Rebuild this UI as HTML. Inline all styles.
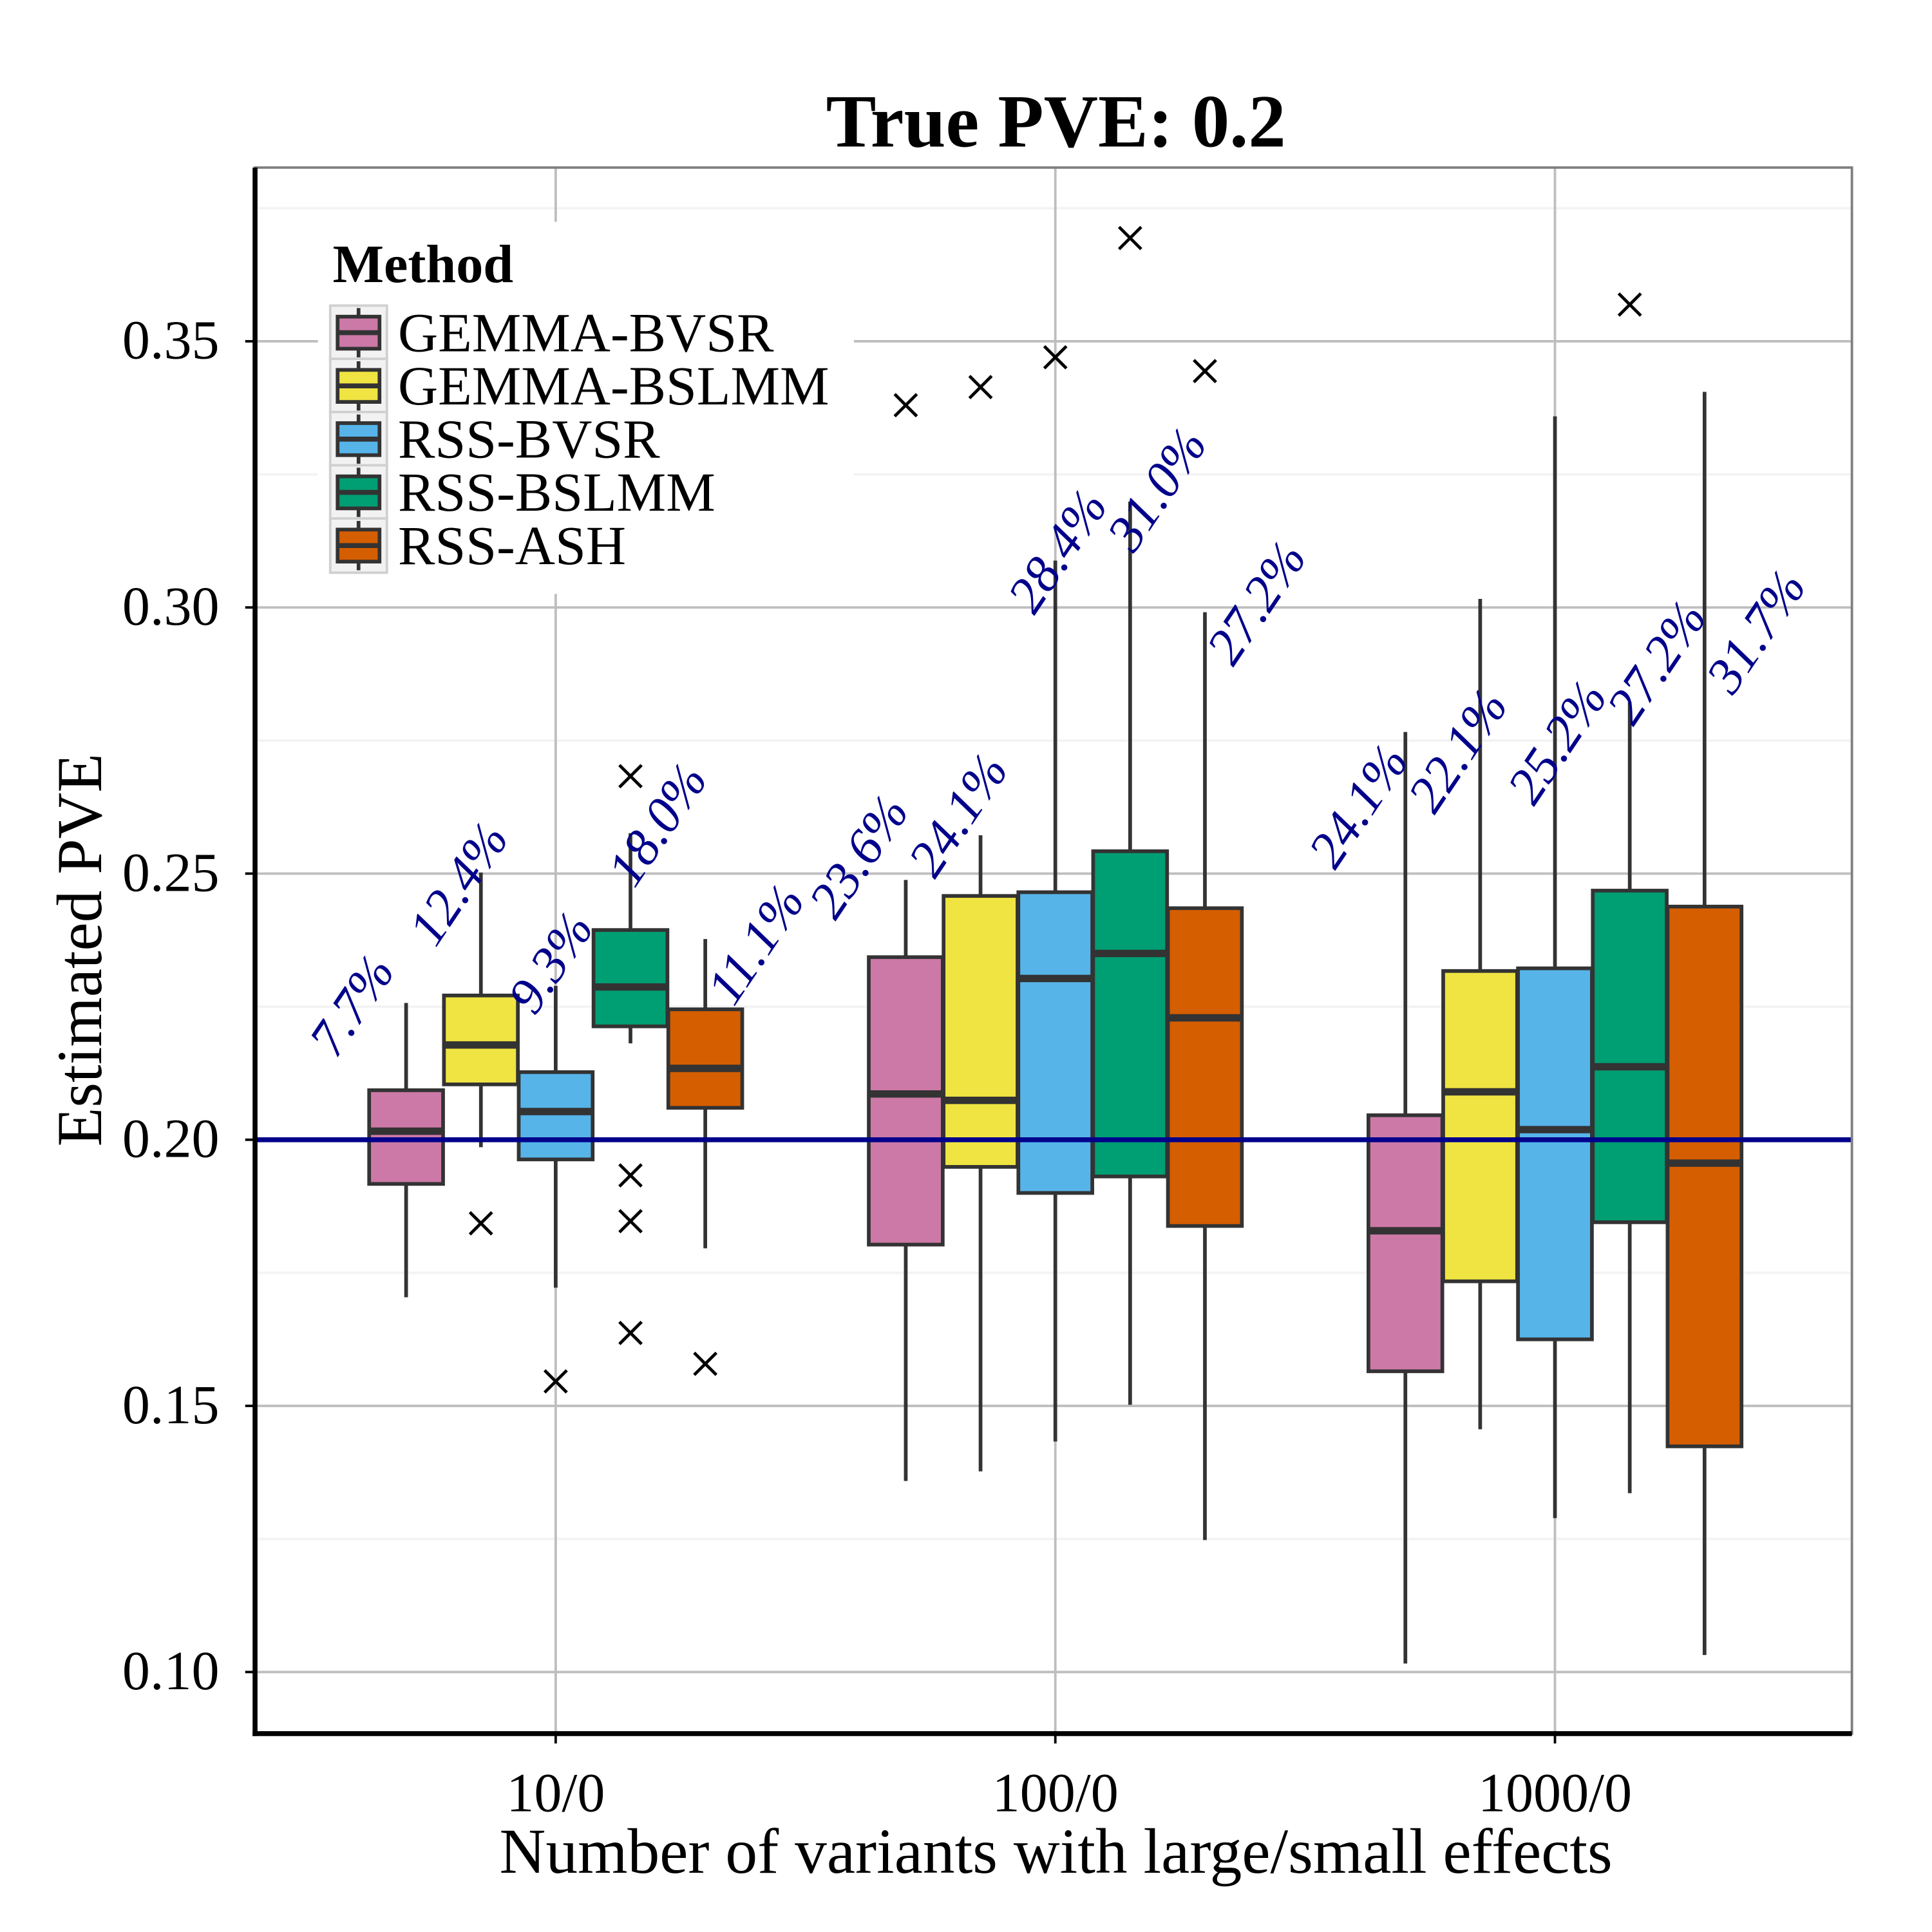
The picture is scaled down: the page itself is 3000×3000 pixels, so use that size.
<!DOCTYPE html>
<html><head><meta charset="utf-8"><style>html,body{margin:0;padding:0;background:#fff}svg{display:block}</style></head>
<body>
<svg id="chart" width="3000" height="3000" viewBox="0 0 1568 1568" xmlns="http://www.w3.org/2000/svg" font-family="'Liberation Serif', serif">
<rect x="0" y="0" width="1568" height="1568" fill="#fff"/>
<g id="grid"></g>
<g id="marks"></g>
<g id="labels"></g>
<g id="axes"></g>
<text x="857" y="119" text-anchor="middle" font-size="61" font-weight="bold">True PVE: 0.2</text>
<text x="857" y="1520" text-anchor="middle" font-size="52">Number of variants with large/small effects</text>
<text transform="translate(82,771) rotate(-90)" text-anchor="middle" font-size="52">Estimated PVE</text>
<g id="legend"></g>
</svg>
<script>
const groups = ["10/0","100/0","1000/0"];
const methods = ["GEMMA-BVSR","GEMMA-BSLMM","RSS-BVSR","RSS-BSLMM","RSS-ASH"];
const colors = ["#CC79A7","#F0E442","#56B4E9","#009E73","#D55E00"];
const yTicks = [0.10,0.15,0.20,0.25,0.30,0.35];
const yTickLabels = ["0.10","0.15","0.20","0.25","0.30","0.35"];
const truePVE = 0.2;
// [method] = [lowWhisker, q1, median, q3, highWhisker]
const stats10 = [[0.1704,0.1917,0.2016,0.2093,0.2257],[0.1986,0.2104,0.2178,0.2271,0.2502],[0.1722,0.1963,0.2053,0.2127,0.2289],[0.2181,0.2213,0.2287,0.2394,0.2576],[0.1796,0.2060,0.2134,0.2245,0.2377]];
const stats100 = [[0.1359,0.1803,0.2086,0.2343,0.2488],[0.1377,0.1949,0.2074,0.2458,0.2572],[0.1433,0.1900,0.2303,0.2465,0.3088],[0.1502,0.1931,0.2350,0.2542,0.3199],[0.1248,0.1838,0.2229,0.2435,0.2991]];
const stats1000 = [[0.1016,0.1565,0.1829,0.2046,0.2766],[0.1456,0.1734,0.2090,0.2317,0.3016],[0.1289,0.1625,0.2019,0.2322,0.3359],[0.1336,0.1845,0.2137,0.2468,0.2822],[0.1032,0.1424,0.1956,0.2438,0.3405]];
const outliers10 = [[],[0.1843],[0.1546],[0.2683,0.1933,0.1847,0.1637],[0.1579]];
const outliers100 = [[0.3380],[0.3414],[0.3470],[0.3694],[0.3444]];
const outliers1000 = [[],[],[],[0.3569],[]];
const pctLabels10 = ["7.7%","12.4%","9.3%","18.0%","11.1%"];
const pctLabels100 = ["23.6%","24.1%","28.4%","31.0%","27.2%"];
const pctLabels1000 = ["24.1%","22.1%","25.2%","27.2%","31.7%"];
const pctLabelY10 = [0.2150,0.2359,0.2231,0.2470,0.2248];
const pctLabelY100 = [0.2410,0.2488,0.2984,0.3100,0.2887];
const pctLabelY1000 = [0.2505,0.2609,0.2625,0.2775,0.2833];

const stats=[stats10,stats100,stats1000], outs=[outliers10,outliers100,outliers1000];
const pls=[pctLabels10,pctLabels100,pctLabels1000], ply=[pctLabelY10,pctLabelY100,pctLabelY1000];
const NS="http://www.w3.org/2000/svg";
const L=207,R=1503,T=136,B=1407;
const y=v=>925-(v-0.2)*4320;
const gx=i=>451+i*405.5;
const dodge=60.7, bw=60, labStep=80.7;
const mx=(g,m)=>gx(g)+(m-2)*dodge;
function mk(tag,attrs,parent){const e=document.createElementNS(NS,tag);for(const k in attrs)e.setAttribute(k,attrs[k]);parent.appendChild(e);return e;}
const grid=document.getElementById('grid'),marks=document.getElementById('marks'),labs=document.getElementById('labels'),axes=document.getElementById('axes'),leg=document.getElementById('legend');
for(let i=0;i<yTicks.length;i++){const v=yTicks[i]+0.025;if(y(v)>T){const e=mk('line',{x1:L,x2:R,y1:y(v),y2:y(v),stroke:'#f3f3f3','stroke-width':2},grid);

}}
for(let i=0;i<yTicks.length;i++){const e=mk('line',{x1:L,x2:R,y1:y(yTicks[i]),y2:y(yTicks[i]),stroke:'#bebebe','stroke-width':2},grid);

}
for(let g=0;g<groups.length;g++){const e=mk('line',{x1:gx(g),x2:gx(g),y1:T,y2:B,stroke:'#bebebe','stroke-width':2},grid);

}
for(let g=0;g<3;g++){for(let m=0;m<5;m++){const s=stats[g][m],cx=mx(g,m);
const grp=mk('g',{},marks);


mk('line',{x1:cx,x2:cx,y1:y(s[4]),y2:y(s[0]),stroke:'#333','stroke-width':3},grp);
mk('rect',{x:cx-bw/2,y:y(s[3]),width:bw,height:y(s[1])-y(s[3]),fill:colors[m],stroke:'#333','stroke-width':3},grp);
mk('line',{x1:cx-bw/2,x2:cx+bw/2,y1:y(s[2]),y2:y(s[2]),stroke:'#333','stroke-width':6},grp);
for(const o of outs[g][m]){const oy=y(o),d=9;
const c=mk('path',{d:`M${cx-d},${oy-d}L${cx+d},${oy+d}M${cx+d},${oy-d}L${cx-d},${oy+d}`,stroke:'#000','stroke-width':2.5,fill:'none'},marks);

}
const lx=gx(g)+(m-2)*labStep-17;
const t=mk('text',{transform:`translate(${lx},${y(ply[g][m])}) rotate(-56)`,'font-size':42,'font-style':'italic',fill:'#00008B'},labs);
t.textContent=pls[g][m];

}}
const hl=mk('line',{x1:L,x2:R,y1:y(truePVE),y2:y(truePVE),stroke:'#00008B','stroke-width':4},marks);


mk('rect',{x:L,y:T,width:R-L,height:B-T,fill:'none',stroke:'#7f7f7f','stroke-width':2},axes);
mk('line',{x1:L,x2:L,y1:T,y2:B+2,stroke:'#000','stroke-width':4},axes);
mk('line',{x1:L-2,x2:R,y1:B,y2:B,stroke:'#000','stroke-width':4},axes);
for(let i=0;i<yTicks.length;i++){mk('line',{x1:L-8,x2:L,y1:y(yTicks[i]),y2:y(yTicks[i]),stroke:'#000','stroke-width':2},axes);
const t=mk('text',{x:178,y:y(yTicks[i])+14,'text-anchor':'end','font-size':45},axes);t.textContent=yTickLabels[i];

}
for(let g=0;g<groups.length;g++){mk('line',{x1:gx(g),x2:gx(g),y1:B,y2:B+8,stroke:'#000','stroke-width':2},axes);
const t=mk('text',{x:gx(g),y:1470,'text-anchor':'middle','font-size':45},axes);t.textContent=groups[g];

}
mk('rect',{x:258,y:180,width:435,height:302,fill:'#fff'},leg);
const lt=mk('text',{x:270,y:229,'font-size':44,'font-weight':'bold'},leg);lt.textContent='Method';


for(let m=0;m<5;m++){const cy=270+m*43.2;
const ent=mk('g',{},leg);


mk('rect',{x:268,y:cy-22,width:46,height:44,fill:'#f2f2f2',stroke:'#d0d0d0','stroke-width':2},ent);
mk('line',{x1:291,x2:291,y1:cy-20,y2:cy+20,stroke:'#333','stroke-width':3},ent);
mk('rect',{x:274,y:cy-13,width:34,height:26,fill:colors[m],stroke:'#333','stroke-width':3},ent);
mk('line',{x1:274,x2:308,y1:cy,y2:cy,stroke:'#333','stroke-width':4},ent);
const t=mk('text',{x:323,y:cy+15,'font-size':45},ent);t.textContent=methods[m];}
</script>
</body></html>
